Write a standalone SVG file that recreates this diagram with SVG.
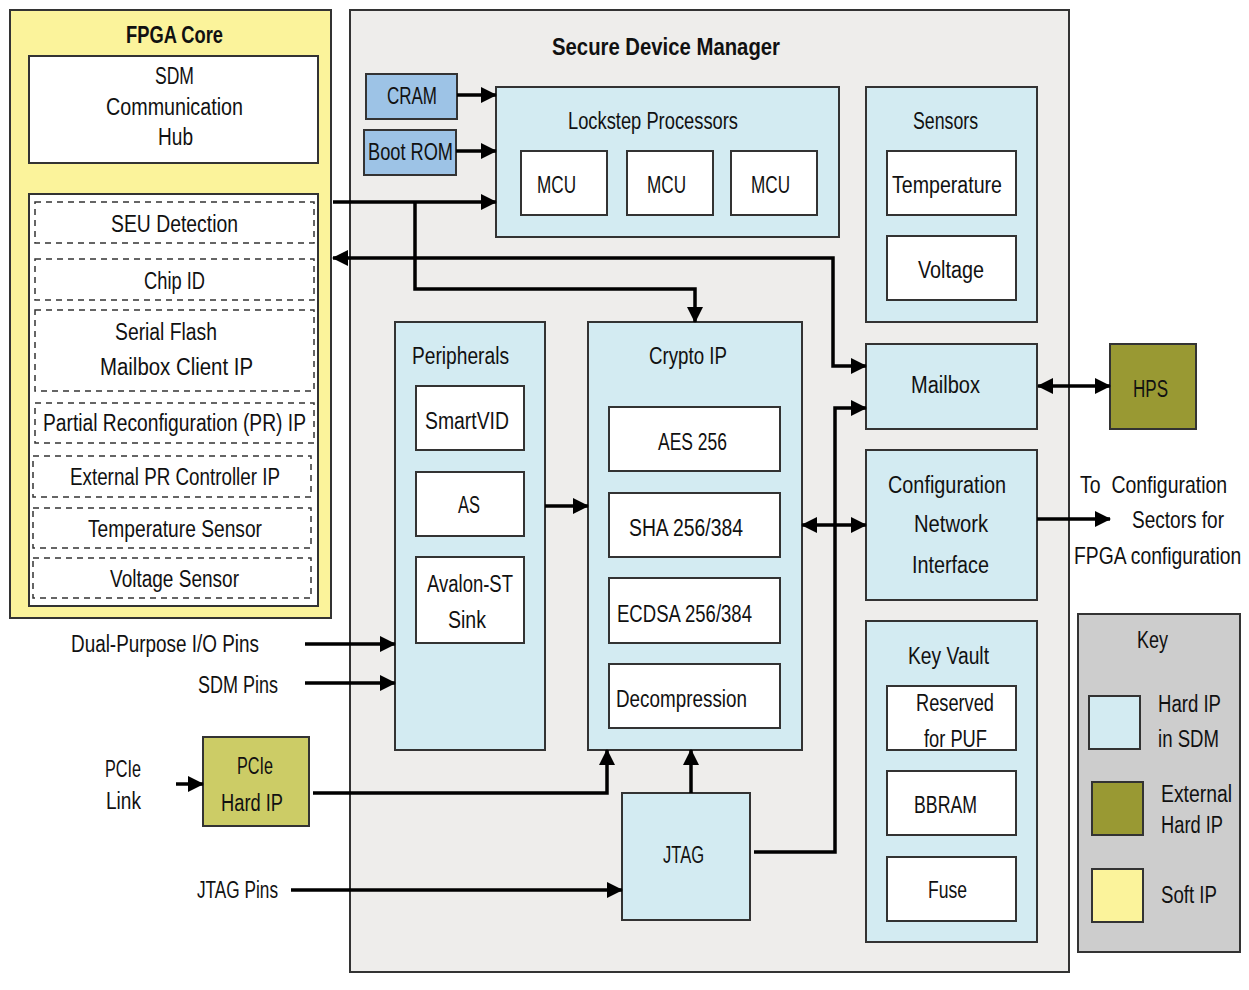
<svg xmlns="http://www.w3.org/2000/svg" width="1249" height="990" viewBox="0 0 1249 990">
  <style>
    text { font-family: "Liberation Sans", Arial, sans-serif; font-size: 23px; fill: #111; }
    .title { font-weight: bold; }
    .box { stroke: #333; stroke-width: 2; }
    .soft { fill: #fbf39b; }
    .hard { fill: #d3ebf2; }
    .mem { fill: #9dc3e6; }
    .ext { fill: #999933; }
    .pcie { fill: #cccc66; }
    .white { fill: #fff; }
    .sdm { fill: #eeedeb; }
    .keybg { fill: #cdcdcd; }
    .dash { fill: none; stroke: #333; stroke-width: 1.5; stroke-dasharray: 6 5; }
    .wire { fill: none; stroke: #000; stroke-width: 3.5; }
    .one { marker-end: url(#arrow); }
    .two { marker-start: url(#arrow); marker-end: url(#arrow); }
  </style>
  <defs>
    <marker id="arrow" markerUnits="userSpaceOnUse" markerWidth="16" markerHeight="16" refX="15" refY="8" orient="auto-start-reverse">
      <path d="M0,0 L16,8 L0,16 z" fill="#000"/>
    </marker>
  </defs>

  <rect width="1249" height="990" fill="#fff"/>

  <!-- FPGA core (soft IP) -->
  <g id="fpga-core">
    <rect class="box soft" x="10" y="10" width="321" height="608"/>
    <text class="title" x="126" y="43" textLength="97" lengthAdjust="spacingAndGlyphs">FPGA Core</text>
  </g>
  <g id="sdm-comm-hub">
    <rect class="box white" x="29" y="56" width="289" height="107"/>
    <text x="155" y="84" textLength="39" lengthAdjust="spacingAndGlyphs">SDM</text>
    <text x="106" y="115" textLength="137" lengthAdjust="spacingAndGlyphs">Communication</text>
    <text x="158" y="145" textLength="35" lengthAdjust="spacingAndGlyphs">Hub</text>
  </g>
  <g id="soft-ip-list">
    <rect class="box white" x="29" y="194" width="289" height="412"/>
  </g>
  <g id="seu-detection">
    <rect class="dash" x="35" y="202" width="279" height="41"/>
    <text x="111" y="232" textLength="127" lengthAdjust="spacingAndGlyphs">SEU Detection</text>
  </g>
  <g id="chip-id">
    <rect class="dash" x="35" y="259" width="279" height="41"/>
    <text x="144" y="289" textLength="61" lengthAdjust="spacingAndGlyphs">Chip ID</text>
  </g>
  <g id="serial-flash">
    <rect class="dash" x="35" y="310" width="279" height="81"/>
    <text x="115" y="340" textLength="102" lengthAdjust="spacingAndGlyphs">Serial Flash</text>
    <text x="100" y="375" textLength="153" lengthAdjust="spacingAndGlyphs">Mailbox Client IP</text>
  </g>
  <g id="pr-ip">
    <rect class="dash" x="35" y="403" width="279" height="40"/>
    <text x="43" y="431" textLength="263" lengthAdjust="spacingAndGlyphs">Partial Reconfiguration (PR) IP</text>
  </g>
  <g id="ext-pr-ip">
    <rect class="dash" x="33" y="456" width="278" height="41"/>
    <text x="70" y="485" textLength="210" lengthAdjust="spacingAndGlyphs">External PR Controller IP</text>
  </g>
  <g id="temp-sensor-ip">
    <rect class="dash" x="33" y="508" width="278" height="40"/>
    <text x="88" y="537" textLength="174" lengthAdjust="spacingAndGlyphs">Temperature Sensor</text>
  </g>
  <g id="volt-sensor-ip">
    <rect class="dash" x="33" y="558" width="278" height="40"/>
    <text x="110" y="587" textLength="129" lengthAdjust="spacingAndGlyphs">Voltage Sensor</text>
  </g>

  <!-- Secure Device Manager -->
  <g id="sdm">
    <rect class="box sdm" x="350" y="10" width="719" height="962"/>
    <text class="title" x="552" y="55" textLength="228" lengthAdjust="spacingAndGlyphs">Secure Device Manager</text>
  </g>
  <g id="cram">
    <rect class="box mem" x="366" y="74" width="91" height="45"/>
    <text x="387" y="104" textLength="50" lengthAdjust="spacingAndGlyphs">CRAM</text>
  </g>
  <g id="boot-rom">
    <rect class="box mem" x="364" y="130" width="92" height="45"/>
    <text x="368" y="160" textLength="85" lengthAdjust="spacingAndGlyphs">Boot ROM</text>
  </g>
  <g id="lockstep">
    <rect class="box hard" x="496" y="87" width="343" height="150"/>
    <text x="568" y="129" textLength="170" lengthAdjust="spacingAndGlyphs">Lockstep Processors</text>
    <rect class="box white" x="521" y="151" width="86" height="64"/>
    <text x="537" y="193" textLength="39" lengthAdjust="spacingAndGlyphs">MCU</text>
    <rect class="box white" x="627" y="151" width="86" height="64"/>
    <text x="647" y="193" textLength="39" lengthAdjust="spacingAndGlyphs">MCU</text>
    <rect class="box white" x="731" y="151" width="86" height="64"/>
    <text x="751" y="193" textLength="39" lengthAdjust="spacingAndGlyphs">MCU</text>
  </g>
  <g id="sensors">
    <rect class="box hard" x="866" y="87" width="171" height="235"/>
    <text x="913" y="129" textLength="65" lengthAdjust="spacingAndGlyphs">Sensors</text>
    <rect class="box white" x="887" y="151" width="129" height="64"/>
    <text x="892" y="193" textLength="110" lengthAdjust="spacingAndGlyphs">Temperature</text>
    <rect class="box white" x="887" y="236" width="129" height="64"/>
    <text x="918" y="278" textLength="66" lengthAdjust="spacingAndGlyphs">Voltage</text>
  </g>
  <g id="mailbox">
    <rect class="box hard" x="866" y="344" width="171" height="85"/>
    <text x="911" y="393" textLength="69" lengthAdjust="spacingAndGlyphs">Mailbox</text>
  </g>
  <g id="config-network">
    <rect class="box hard" x="866" y="450" width="171" height="150"/>
    <text x="888" y="493" textLength="118" lengthAdjust="spacingAndGlyphs">Configuration</text>
    <text x="914" y="532" textLength="74" lengthAdjust="spacingAndGlyphs">Network</text>
    <text x="912" y="573" textLength="77" lengthAdjust="spacingAndGlyphs">Interface</text>
  </g>
  <g id="peripherals">
    <rect class="box hard" x="395" y="322" width="150" height="428"/>
    <text x="412" y="364" textLength="97" lengthAdjust="spacingAndGlyphs">Peripherals</text>
    <rect class="box white" x="416" y="386" width="108" height="64"/>
    <text x="425" y="429" textLength="84" lengthAdjust="spacingAndGlyphs">SmartVID</text>
    <rect class="box white" x="416" y="472" width="108" height="64"/>
    <text x="458" y="513" textLength="22" lengthAdjust="spacingAndGlyphs">AS</text>
    <rect class="box white" x="416" y="557" width="108" height="86"/>
    <text x="427" y="592" textLength="86" lengthAdjust="spacingAndGlyphs">Avalon-ST</text>
    <text x="448" y="628" textLength="38" lengthAdjust="spacingAndGlyphs">Sink</text>
  </g>
  <g id="crypto-ip">
    <rect class="box hard" x="588" y="322" width="214" height="428"/>
    <text x="649" y="364" textLength="78" lengthAdjust="spacingAndGlyphs">Crypto IP</text>
    <rect class="box white" x="609" y="407" width="171" height="64"/>
    <text x="658" y="450" textLength="69" lengthAdjust="spacingAndGlyphs">AES 256</text>
    <rect class="box white" x="609" y="493" width="171" height="64"/>
    <text x="629" y="536" textLength="114" lengthAdjust="spacingAndGlyphs">SHA 256/384</text>
    <rect class="box white" x="609" y="578" width="171" height="65"/>
    <text x="617" y="622" textLength="135" lengthAdjust="spacingAndGlyphs">ECDSA 256/384</text>
    <rect class="box white" x="609" y="664" width="171" height="64"/>
    <text x="616" y="707" textLength="131" lengthAdjust="spacingAndGlyphs">Decompression</text>
  </g>
  <g id="jtag">
    <rect class="box hard" x="622" y="793" width="128" height="127"/>
    <text x="663" y="863" textLength="41" lengthAdjust="spacingAndGlyphs">JTAG</text>
  </g>
  <g id="key-vault">
    <rect class="box hard" x="866" y="621" width="171" height="321"/>
    <text x="908" y="664" textLength="81" lengthAdjust="spacingAndGlyphs">Key Vault</text>
    <rect class="box white" x="887" y="686" width="129" height="64"/>
    <text x="916" y="711" textLength="78" lengthAdjust="spacingAndGlyphs">Reserved</text>
    <text x="924" y="747" textLength="63" lengthAdjust="spacingAndGlyphs">for PUF</text>
    <rect class="box white" x="887" y="771" width="129" height="64"/>
    <text x="914" y="813" textLength="63" lengthAdjust="spacingAndGlyphs">BBRAM</text>
    <rect class="box white" x="887" y="857" width="129" height="64"/>
    <text x="928" y="898" textLength="39" lengthAdjust="spacingAndGlyphs">Fuse</text>
  </g>

  <!-- External blocks -->
  <g id="hps">
    <rect class="box ext" x="1110" y="344" width="86" height="85"/>
    <text x="1133" y="397" textLength="35" lengthAdjust="spacingAndGlyphs">HPS</text>
  </g>
  <g id="pcie-hard-ip">
    <rect class="box pcie" x="203" y="737" width="106" height="89"/>
    <text x="237" y="774" textLength="36" lengthAdjust="spacingAndGlyphs">PCIe</text>
    <text x="221" y="811" textLength="62" lengthAdjust="spacingAndGlyphs">Hard IP</text>
  </g>

  <!-- Pin and output labels; the right-hand ones are narrowed so they stay inside the canvas -->
  <g id="labels">
    <text transform="translate(1080,493) scale(0.8,1)" textLength="184" lengthAdjust="spacingAndGlyphs" xml:space="preserve">To  Configuration</text>
    <text transform="translate(1132,528) scale(0.8,1)" textLength="115" lengthAdjust="spacingAndGlyphs">Sectors for</text>
    <text transform="translate(1074,564) scale(0.8,1)" textLength="209" lengthAdjust="spacingAndGlyphs">FPGA configuration</text>
    <text x="71" y="652" textLength="188" lengthAdjust="spacingAndGlyphs">Dual-Purpose I/O Pins</text>
    <text x="198" y="693" textLength="80" lengthAdjust="spacingAndGlyphs">SDM Pins</text>
    <text x="105" y="777" textLength="36" lengthAdjust="spacingAndGlyphs">PCIe</text>
    <text x="106" y="809" textLength="35" lengthAdjust="spacingAndGlyphs">Link</text>
    <text x="197" y="898" textLength="81" lengthAdjust="spacingAndGlyphs">JTAG Pins</text>
  </g>

  <!-- Legend -->
  <g id="key">
    <rect class="box keybg" x="1078" y="614" width="162" height="338"/>
    <text x="1137" y="648" textLength="31" lengthAdjust="spacingAndGlyphs">Key</text>
    <rect class="box hard" x="1089" y="696" width="51" height="53"/>
    <text x="1158" y="712" textLength="63" lengthAdjust="spacingAndGlyphs">Hard IP</text>
    <text x="1158" y="747" textLength="61" lengthAdjust="spacingAndGlyphs">in SDM</text>
    <rect class="box ext" x="1092" y="782" width="51" height="53"/>
    <text x="1161" y="802" textLength="71" lengthAdjust="spacingAndGlyphs">External</text>
    <text x="1161" y="833" textLength="62" lengthAdjust="spacingAndGlyphs">Hard IP</text>
    <rect class="box soft" x="1092" y="869" width="51" height="53"/>
    <text x="1161" y="903" textLength="56" lengthAdjust="spacingAndGlyphs">Soft IP</text>
  </g>

  <!-- Connectors -->
  <g id="connectors">
    <path class="wire one" d="M457,95 H496"/>
    <path class="wire one" d="M456,151 H496"/>
    <path class="wire one" d="M333,202 H496"/>
    <path class="wire one" d="M415,202 V289 H695 V322"/>
    <path class="wire two" d="M333,258 H833 V366 H866"/>
    <path class="wire one" d="M754,852 H835 V408 H866"/>
    <path class="wire two" d="M1038,386 H1110"/>
    <path class="wire two" d="M802,525 H866"/>
    <path class="wire one" d="M1037,519 H1110"/>
    <path class="wire one" d="M545,506 H588"/>
    <path class="wire one" d="M305,644 H395"/>
    <path class="wire one" d="M305,683 H395"/>
    <path class="wire one" d="M176,784 H203"/>
    <path class="wire one" d="M313,793 H607 V750"/>
    <path class="wire one" d="M691,793 V750"/>
    <path class="wire one" d="M291,890 H622"/>
  </g>
</svg>
